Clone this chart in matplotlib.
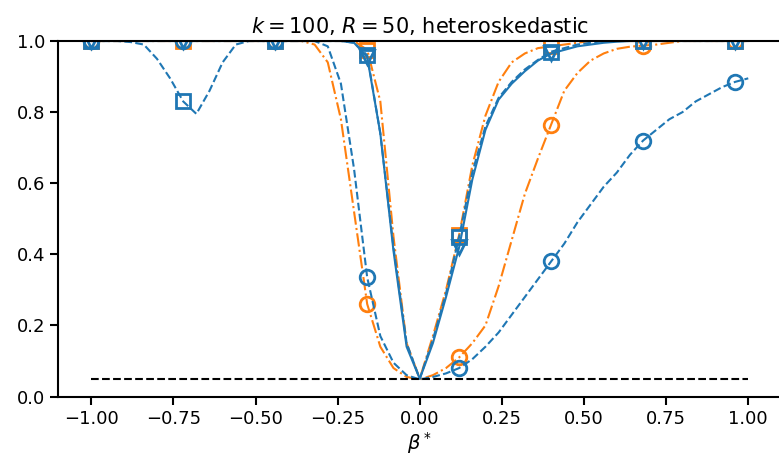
import numpy as np
import matplotlib
matplotlib.use("Agg")
import matplotlib.pyplot as plt

plt.rcParams['mathtext.fontset'] = 'dejavusans'

# beta* grid, step 0.04 from -1 to 1 (markers every 7th point)
beta = np.round(np.linspace(-1.0, 1.0, 51), 2)

# blue dashed, circles
blue_circ = [1.0, 1.0, 1.0, 1.0, 1.0, 1.0, 1.0, 1.0, 1.0, 1.0,
             1.0, 1.0, 1.0, 1.0, 1.0, 1.0, 1.0, 1.0, 0.985, 0.88,
             0.64, 0.335, 0.17, 0.095, 0.06, 0.048, 0.055, 0.065, 0.08, 0.105,
             0.14, 0.18, 0.23, 0.28, 0.33, 0.38, 0.43, 0.49, 0.54, 0.59,
             0.63, 0.68, 0.72, 0.75, 0.78, 0.80, 0.83, 0.85, 0.87, 0.885,
             0.895]
# orange dash-dot, circles
orange_circ = [1.0, 1.0, 1.0, 1.0, 1.0, 1.0, 1.0, 1.0, 1.0, 1.0,
               1.0, 1.0, 1.0, 1.0, 1.0, 1.0, 1.0, 0.99, 0.94, 0.78,
               0.52, 0.26, 0.14, 0.08, 0.055, 0.048, 0.06, 0.08, 0.11, 0.15,
               0.2, 0.31, 0.44, 0.57, 0.67, 0.765, 0.86, 0.91, 0.945, 0.965,
               0.978, 0.984, 0.987, 0.99, 0.995, 1.0, 1.0, 1.0, 1.0, 1.0,
               1.0]
# blue dashed, squares
blue_sq = [1.0, 1.0, 1.0, 0.997, 0.99, 0.95, 0.895, 0.83, 0.795, 0.86,
           0.94, 0.99, 1.0, 1.0, 1.0, 1.0, 1.0, 1.0, 1.0, 1.0,
           0.995, 0.96, 0.74, 0.42, 0.15, 0.05, 0.16, 0.29, 0.45, 0.63,
           0.76, 0.84, 0.885, 0.92, 0.947, 0.97, 0.98, 0.99, 0.995, 1.0,
           1.0, 1.0, 1.0, 1.0, 1.0, 1.0, 1.0, 1.0, 1.0, 1.0,
           1.0]
# orange dash-dot, squares
orange_sq = [1.0, 1.0, 1.0, 1.0, 1.0, 1.0, 1.0, 1.0, 1.0, 1.0,
             1.0, 1.0, 1.0, 1.0, 1.0, 1.0, 1.0, 1.0, 1.0, 1.0,
             1.0, 0.975, 0.83, 0.45, 0.15, 0.05, 0.17, 0.30, 0.455, 0.65,
             0.79, 0.885, 0.94, 0.965, 0.98, 0.985, 0.99, 0.995, 1.0, 1.0,
             1.0, 1.0, 1.0, 1.0, 1.0, 1.0, 1.0, 1.0, 1.0, 1.0,
             1.0]
# blue solid, triangles
blue_tri = [1.0, 1.0, 1.0, 1.0, 1.0, 1.0, 1.0, 1.0, 1.0, 1.0,
            1.0, 1.0, 1.0, 1.0, 1.0, 1.0, 1.0, 1.0, 1.0, 1.0,
            0.995, 0.955, 0.74, 0.41, 0.14, 0.05, 0.15, 0.28, 0.42, 0.61,
            0.75, 0.835, 0.88, 0.915, 0.945, 0.965, 0.975, 0.985, 0.99, 0.995,
            0.998, 1.0, 1.0, 1.0, 1.0, 1.0, 1.0, 1.0, 1.0, 1.0,
            1.0]
level = 0.05

fig = plt.figure(figsize=(7.79, 4.65), dpi=100)
ax = fig.add_axes([58.4/779, 68.5/465, 722.7/779, 355.5/465])

mk = dict(markevery=7, markersize=10.5, markeredgewidth=2, markerfacecolor='none', linewidth=1.5)
ax.plot(beta, orange_sq, color='tab:orange', linestyle='-.', marker='s', **mk)
ax.plot(beta, orange_circ, color='tab:orange', linestyle='-.', marker='o', **mk)
ax.plot(beta, blue_sq, color='tab:blue', linestyle='--', marker='s', **mk)
ax.plot(beta, blue_tri, color='tab:blue', linestyle='-', marker='v', **mk)
ax.plot(beta, blue_circ, color='tab:blue', linestyle='--', marker='o', **mk)
ax.plot([beta[0], beta[-1]], [level, level], color='black', linestyle='--', linewidth=1.5)

ax.set_xlim(-1.1, 1.1)
ax.set_ylim(0, 1)
ax.set_xticks([-1.0, -0.75, -0.5, -0.25, 0.0, 0.25, 0.5, 0.75, 1.0])
ax.tick_params(labelsize=13, width=1.5, length=6)
for s in ax.spines.values():
    s.set_linewidth(1.5)
ax.set_xlabel(r"$\beta^*$", fontsize=14, labelpad=2)
ax.set_title(r"$k=100$, $R=50$, heteroskedastic", fontsize=15)

fig.savefig("out.png", dpi=100)
